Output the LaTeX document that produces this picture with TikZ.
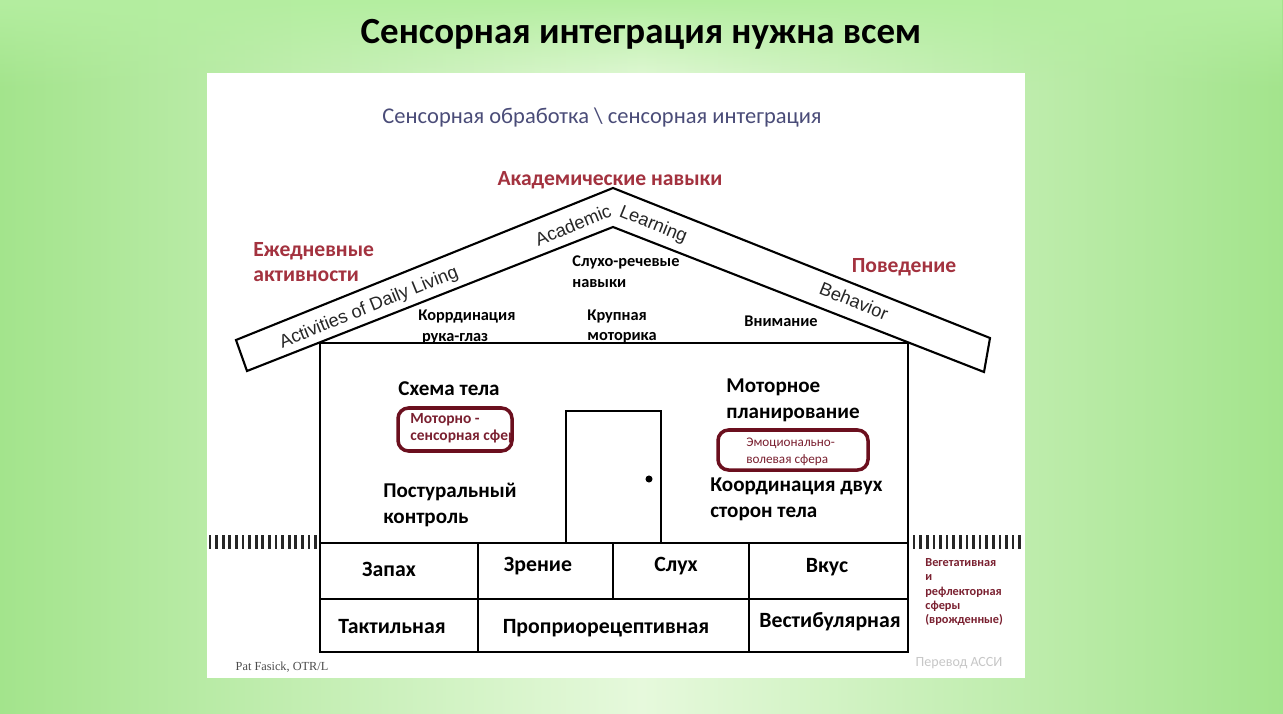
\documentclass[tikz,border=0pt]{standalone}
\usepackage{fontspec}
\setmainfont{Carlito}
\newfontfamily\engfont{Liberation Sans}
\newfontfamily\creditfont{Liberation Serif}
\usetikzlibrary{fadings}
\definecolor{bgedge}{HTML}{A3E48C}
\definecolor{bgmid}{HTML}{E6F9DC}
\definecolor{bgtop}{HTML}{B4EEA0}
\definecolor{redlbl}{HTML}{A3323F}
\definecolor{boxred}{HTML}{6B0F1E}
\definecolor{subblue}{HTML}{4A4C78}
\definecolor{smallred}{HTML}{7A2030}
\tikzset{
  houseline/.style={line width=1.2pt, black},
  bigtxt/.style={font=\bfseries\fontsize{12}{14.6}\selectfont, inner sep=0pt, align=left},
  redtxt/.style={font=\bfseries\fontsize{12.3}{14.6}\selectfont, inner sep=0pt, align=left, text=redlbl},
  attictxt/.style={font=\bfseries\fontsize{9.3}{11.8}\selectfont, inner sep=0pt, align=left},
  basetxt/.style={font=\bfseries\fontsize{12.4}{14}\selectfont, inner sep=0pt},
  smalltxt/.style={font=\fontsize{7.5}{9.5}\selectfont, inner sep=0pt, align=left, text=smallred},
  engtxt/.style={font=\engfont\fontsize{10.4}{12}\selectfont, inner sep=0pt, text=black!85},
  hatch/.style={line width=1.5pt, black!85},
  redbox/.style={draw=boxred, line width=2pt, rounded corners=6pt}
}
\begin{document}
\begin{tikzpicture}[x=0.02cm, y=-0.02cm]
\useasboundingbox (0,0) rectangle (1283,713);
% background
\shade[left color=bgedge, right color=bgedge, middle color=bgmid] (0,0) rectangle (1283,713);
\fill[bgtop, path fading=south] (0,0) rectangle (1283,90);
\fill[white] (207,73) rectangle (1025,678);
% title
\node[font=\bfseries\fontsize{21}{24}\selectfont, inner sep=0pt] (title) at (641,34) {Сенсорная интеграция нужна всем};
\node[font=\fontsize{12.8}{14}\selectfont, text=subblue, inner sep=0pt] (subtitle) at (602,118) {Сенсорная обработка \textbackslash{} сенсорная интеграция};
% roof
\draw[houseline, line join=miter] (236,340) -- (613,188) -- (990,338) -- (984,372) -- (613,227) -- (247,371) -- cycle;
% house body
\draw[houseline] (320,343) -- (908,343);
\draw[houseline] (320,343) -- (320,652) -- (908,652) -- (908,343);
\draw[line width=1.6pt] (320,543) -- (908,543);
\draw[line width=1.4pt] (320,599) -- (908,599);
\draw[line width=1.4pt] (478,543) -- (478,652);
\draw[line width=1.4pt] (749,543) -- (749,652);
\draw[line width=1.4pt] (613,543) -- (613,599);
% door
\draw[houseline] (566,543) -- (566,411) -- (661,411) -- (661,543);
\fill (649,479) circle (2pt);
% ground hatches
\foreach \i in {0,...,16} {
  \draw[hatch] ({210+\i*6.6},535) -- ++(0,14);
  \draw[hatch] ({914+\i*6.6},535) -- ++(0,14);
}
% roof labels
\node[redtxt] (acad) at (610,180) {Академические навыки};
\node[redtxt, anchor=west] (daily) at (253,262) {Ежедневные\\активности};
\node[redtxt] (behav) at (904,267) {Поведение};
\node[engtxt, rotate=22] (adl) at (369,308) {Activities of Daily Living};
\node[engtxt, rotate=22] (academic) at (573,225) {Academic};
\node[engtxt, rotate=-22] (learning) at (653,225) {Learning};
\node[engtxt, rotate=-22] (behavior) at (854,301) {Behavior};
% attic
\node[attictxt, anchor=west] (sluh) at (572,271.5) {Слухо-речевые\\навыки};
\node[attictxt, anchor=west] (ruka) at (418,327) {Коррдинация\\\ рука-глаз};
\node[attictxt, anchor=west] (krup) at (587,326.5) {Крупная\\моторика};
\node[attictxt] (vnim) at (781,321) {Внимание};
% house interior
\node[bigtxt] (schema) at (449,389) {Схема тела};
\node[bigtxt, anchor=west] (motplan) at (726,400) {Моторное\\планирование};
\node[bigtxt, anchor=west] (postur) at (383,505) {Постуральный\\контроль};
\node[bigtxt, anchor=west] (coord) at (710,499.5) {Координация двух\\сторон тела};
\begin{scope}
\clip (398,400) rectangle (511,460);
\node[smalltxt, font=\bfseries\fontsize{8.8}{9.6}\selectfont, anchor=west] (motsens) at (410,428.5) {Моторно -\\сенсорная сфера};
\end{scope}
\draw[redbox] (398,408) rectangle (512,451);
\node[smalltxt, anchor=west] (emo) at (746,451.5) {Эмоционально-\\волевая сфера};
\draw[redbox] (718,430) rectangle (868,470);
% foundation
\node[basetxt] (zapah) at (389,569) {Запах};
\node[basetxt] (zrenie) at (538,566) {Зрение};
\node[basetxt] (sluh2) at (676,566) {Слух};
\node[basetxt] (vkus) at (827,567) {Вкус};
\node[basetxt] (takt) at (392,627) {Тактильная};
\node[basetxt] (propr) at (606,628) {Проприорецептивная};
\node[basetxt] (vestib) at (830,622) {Вестибулярная};
% right side
\node[font=\bfseries\fontsize{7}{8.2}\selectfont, text=smallred, inner sep=0pt, align=left, anchor=north west] (veget) at (925,558) {Вегетативная\\и\\рефлекторная\\сферы\\(врожденные)};
% credits
\node[font=\creditfont\fontsize{7}{8}\selectfont, text=black!70, inner sep=0pt] (pat) at (282,667) {Pat Fasick, OTR/L};
\node[font=\fontsize{8}{9}\selectfont, text=black!22, inner sep=0pt] (perevod) at (959,663) {Перевод АССИ};
\end{tikzpicture}
\end{document}
